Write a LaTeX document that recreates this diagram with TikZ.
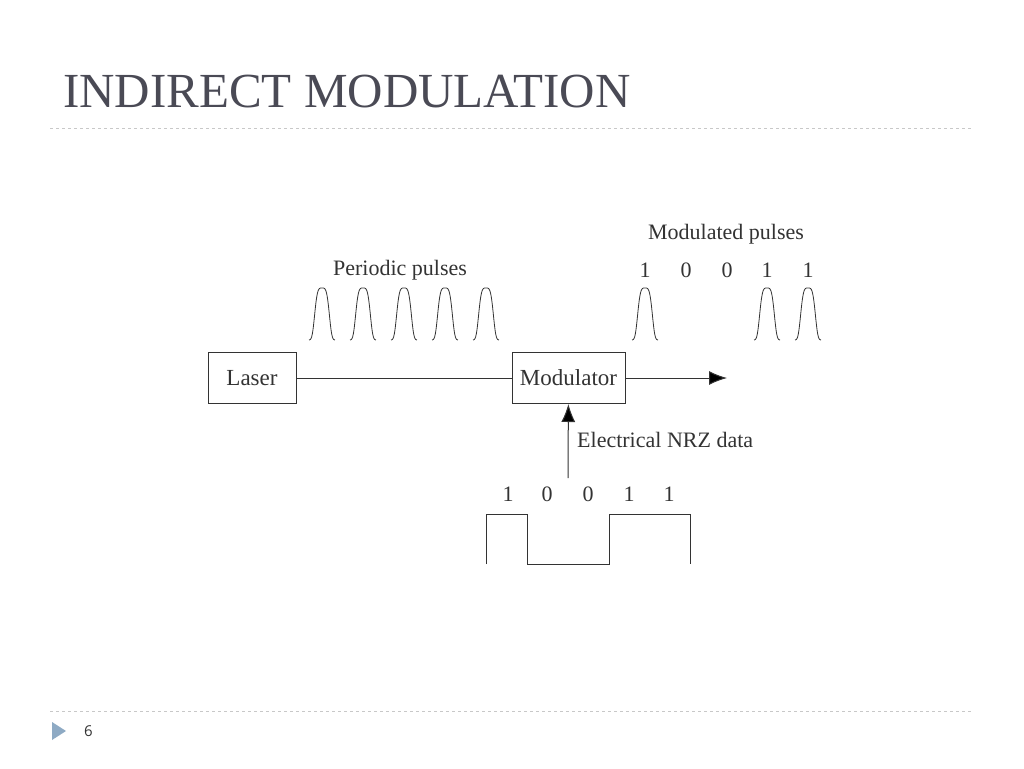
\documentclass[tikz,border=0pt]{standalone}
\usepackage{fontspec}
\setmainfont{Liberation Serif}
\newfontfamily\slidesans{Open Sans}
\usetikzlibrary{arrows.meta}
\definecolor{titlegray}{HTML}{4A4A55}
\definecolor{rulegray}{HTML}{C8C8C8}
\definecolor{bulletblue}{HTML}{8EAAC4}
\definecolor{figgray}{HTML}{333333}
\tikzset{
  blockbox/.style={draw=figgray,line width=1pt,minimum height=51pt,inner sep=0pt,font=\fontsize{23}{23}\selectfont,text=figgray},
  lbl/.style={font=\fontsize{22}{22}\selectfont,text=figgray,inner sep=0pt},
  wire/.style={draw=figgray,line width=1pt},
  bigtip/.style={-{Latex[length=18pt,width=14pt]}},
  sliderule/.style={draw=rulegray,dashed,line width=0.8pt}
}
\newcommand{\pulseat}[1]{\draw[wire,line width=0.8pt,shift={(#1,340)}] plot[domain=-13:13,samples=41,smooth] (\x,{-52*exp(-(\x/8)^4)});}
\begin{document}
\begin{tikzpicture}[x=1pt,y=-1pt]
\useasboundingbox[fill=white] (0,0) rectangle (1024,768);
% slide frame
\node(title) at (63,92)[anchor=west,inner sep=0pt,text=titlegray,font=\fontsize{49}{49}\selectfont] {INDIRECT MODULATION};
\draw[sliderule] (50,128) -- (972,128);
\draw[sliderule] (50,711) -- (972,711);
\fill[bulletblue] (52,722) -- (66,731) -- (52,740) -- cycle;
\node(page) at (84,731)[anchor=west,inner sep=0pt,font=\slidesans\fontsize{15}{15}\selectfont,text=black!80] {6};
% blocks
\node(laser) at (252,378)[blockbox,minimum width=88pt] {Laser};
\node(mod) at (568.5,378)[blockbox,minimum width=113pt] {Modulator};
\coordinate(out) at (727,378);
\coordinate(nrzin) at (568,478);
\path[wire]
  (laser) edge (mod)
  (mod)   edge [bigtip] (out)
  (nrzin) edge [bigtip] (mod);
\node(nrzlabel) at (577,440)[lbl,anchor=west] {Electrical NRZ data};
% optical pulses
\node(perlabel) at (400,270)[lbl] {Periodic pulses};
\foreach \px in {322,363,404,445,486} {\pulseat{\px}}
\node(modlabel) at (726,234)[lbl] {Modulated pulses};
\foreach \px/\bit in {645/1,686/0,727/0,767/1,808/1} {
  \node(m\px) at (\px,270)[lbl] {\bit};
}
\foreach \px in {645,767,808} {\pulseat{\px}}
% electrical data
\foreach \px/\bit in {508/1,547/0,588/0,629/1,669/1} {
  \node(d\px) at (\px,494)[lbl] {\bit};
}
\draw[wire] (486,564) -- (486,514) -- (527,514) -- (527,564) -- (609,564) -- (609,514) -- (690,514) -- (690,564);
\end{tikzpicture}
\end{document}
